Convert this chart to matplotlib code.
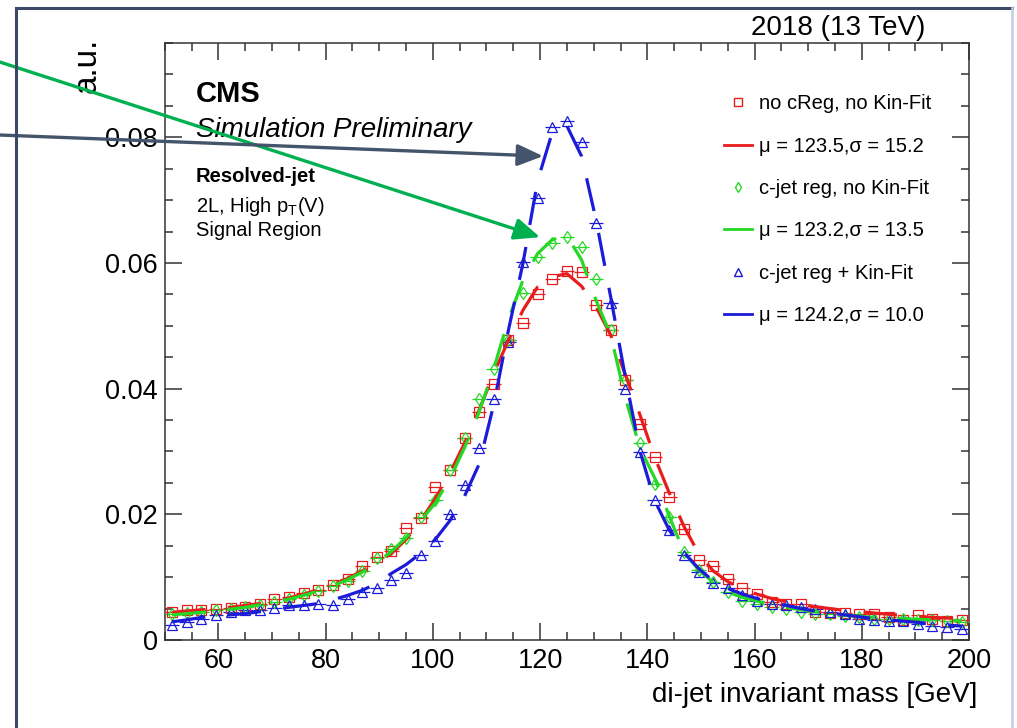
import numpy as np
import matplotlib.pyplot as plt
from matplotlib.lines import Line2D
from matplotlib.ticker import MultipleLocator, FuncFormatter

plt.rcParams['font.family'] = ['Liberation Sans', 'DejaVu Sans']
plt.rcParams['mathtext.fontset'] = 'custom'
plt.rcParams['mathtext.rm'] = 'Liberation Sans'
plt.rcParams['mathtext.it'] = 'Liberation Sans:italic'

# 55 bins between 50 and 200 GeV
bin_edges = np.linspace(50, 200, 56)
centers = 0.5 * (bin_edges[:-1] + bin_edges[1:])
half_w = 0.5 * (bin_edges[1] - bin_edges[0])

# no cReg, no Kin-Fit (red squares) + fit
red_pts = [0.0045, 0.0048, 0.0048, 0.0050, 0.0051, 0.0053, 0.0058, 0.0065, 0.0068, 0.0074,
           0.0079, 0.0088, 0.0097, 0.0118, 0.0132, 0.0142, 0.0178, 0.0194, 0.0243, 0.0270,
           0.0321, 0.0363, 0.0408, 0.0477, 0.0505, 0.0551, 0.0574, 0.0587, 0.0585, 0.0533,
           0.0494, 0.0413, 0.0343, 0.0291, 0.0227, 0.0176, 0.0128, 0.0117, 0.0097, 0.0083,
           0.0073, 0.0061, 0.0057, 0.0057, 0.0045, 0.0043, 0.0043, 0.0041, 0.0041, 0.0036,
           0.0032, 0.0040, 0.0033, 0.0031, 0.0032]
red_fit = [0.0044, 0.0046, 0.0048, 0.0050, 0.0052, 0.0055, 0.0058, 0.0062, 0.0067, 0.0073,
           0.0080, 0.0088, 0.0098, 0.0110, 0.0122, 0.0138, 0.0160, 0.0190, 0.0225, 0.0266,
           0.0313, 0.0366, 0.0424, 0.0477, 0.0525, 0.0562, 0.0578, 0.0583, 0.0563, 0.0530,
           0.0485, 0.0422, 0.0358, 0.0291, 0.0234, 0.0181, 0.0138, 0.0110, 0.0093, 0.0081,
           0.0073, 0.0066, 0.0061, 0.0057, 0.0053, 0.0050, 0.0047, 0.0045, 0.0043, 0.0041,
           0.0039, 0.0037, 0.0036, 0.0035, 0.0034]

# c-jet reg, no Kin-Fit (green diamonds) + fit
green_pts = [0.0041, 0.0043, 0.0045, 0.0047, 0.0049, 0.0052, 0.0056, 0.0061, 0.0066, 0.0072,
             0.0078, 0.0086, 0.0094, 0.0110, 0.0130, 0.0145, 0.0163, 0.0196, 0.0223, 0.0270,
             0.0322, 0.0383, 0.0431, 0.0477, 0.0552, 0.0609, 0.0631, 0.0641, 0.0625, 0.0575,
             0.0493, 0.0413, 0.0313, 0.0249, 0.0196, 0.0140, 0.0111, 0.0093, 0.0077, 0.0062,
             0.0057, 0.0053, 0.0049, 0.0045, 0.0042, 0.0041, 0.0038, 0.0037, 0.0034, 0.0033,
             0.0033, 0.0032, 0.0032, 0.0031, 0.0029]
green_fit = [0.0040, 0.0042, 0.0044, 0.0047, 0.0049, 0.0052, 0.0056, 0.0060, 0.0065, 0.0071,
             0.0078, 0.0086, 0.0096, 0.0108, 0.0123, 0.0141, 0.0163, 0.0190, 0.0218, 0.0257,
             0.0306, 0.0363, 0.0432, 0.0510, 0.0573, 0.0615, 0.0637, 0.0643, 0.0605, 0.0540,
             0.0485, 0.0385, 0.0305, 0.0258, 0.0197, 0.0140, 0.0112, 0.0092, 0.0076, 0.0068,
             0.0062, 0.0056, 0.0052, 0.0048, 0.0045, 0.0042, 0.0040, 0.0038, 0.0036, 0.0035,
             0.0034, 0.0033, 0.0032, 0.0032, 0.0031]

# c-jet reg + Kin-Fit (blue triangles) + fit
blue_pts = [0.0024, 0.0028, 0.0034, 0.0039, 0.0045, 0.0047, 0.0048, 0.0051, 0.0055, 0.0056,
            0.0058, 0.0055, 0.0066, 0.0077, 0.0082, 0.0095, 0.0106, 0.0135, 0.0157, 0.0200,
            0.0246, 0.0305, 0.0383, 0.0474, 0.0602, 0.0703, 0.0817, 0.0826, 0.0792, 0.0664,
            0.0537, 0.0400, 0.0299, 0.0223, 0.0175, 0.0135, 0.0109, 0.0090, 0.0082, 0.0071,
            0.0062, 0.0058, 0.0055, 0.0053, 0.0050, 0.0045, 0.0042, 0.0033, 0.0032, 0.0031,
            0.0031, 0.0025, 0.0023, 0.0020, 0.0017]
blue_fit = [0.0029, 0.0032, 0.0036, 0.0038, 0.0040, 0.0042, 0.0045, 0.0049, 0.0052, 0.0055,
            0.0058, 0.0064, 0.0071, 0.0079, 0.0090, 0.0106, 0.0120, 0.0138, 0.0160, 0.0190,
            0.0229, 0.0280, 0.0375, 0.0493, 0.0600, 0.0731, 0.0808, 0.0818, 0.0770, 0.0668,
            0.0545, 0.0418, 0.0300, 0.0222, 0.0175, 0.0139, 0.0114, 0.0094, 0.0082, 0.0073,
            0.0066, 0.0060, 0.0055, 0.0050, 0.0046, 0.0043, 0.0040, 0.0037, 0.0034, 0.0032,
            0.0030, 0.0028, 0.0026, 0.0024, 0.0022]

marker_labels = ['no cReg, no Kin-Fit', 'c-jet reg, no Kin-Fit', 'c-jet reg + Kin-Fit']
fit_labels = ['\u03bc = 123.5,\u03c3 = 15.2', '\u03bc = 123.2,\u03c3 = 13.5', '\u03bc = 124.2,\u03c3 = 10.0']
colors = ['#e81c1c', '#25d825', '#1c1cd8']
markers = ['s', 'd', '^']
msizes = [6.5, 6.0, 7.0]

fig = plt.figure(figsize=(10.17, 7.28), dpi=100)
ax = fig.add_axes([0.16205, 0.12088, 0.79076, 0.82005])

all_pts = [red_pts, green_pts, blue_pts]
all_fit = [red_fit, green_fit, blue_fit]
handles = []
labels = []
for pts, fit, col, mk, ms, ml, fl in zip(all_pts, all_fit, colors, markers, msizes,
                                          marker_labels, fit_labels):
    ax.errorbar(centers, pts, xerr=half_w, fmt=mk, mfc='none', mec=col, ecolor=col,
                ms=ms, mew=0.9, elinewidth=0.9, capsize=0, zorder=3)
    ax.plot(centers, fit, color=col, lw=2.3, dashes=(10.5, 7), zorder=4)
    handles.append(Line2D([], [], ls='none', marker=mk, mfc='none', mec=col, ms=ms - 1, mew=1.0))
    labels.append(ml)
    handles.append(Line2D([], [], color=col, lw=2.0))
    labels.append(fl)

ax.set_xlim(50, 200)
ax.set_ylim(0, 0.095)
ax.xaxis.set_major_locator(MultipleLocator(20))
ax.xaxis.set_minor_locator(MultipleLocator(5))
ax.yaxis.set_major_locator(MultipleLocator(0.02))
ax.yaxis.set_minor_locator(MultipleLocator(0.005))
ax.yaxis.set_major_formatter(FuncFormatter(lambda v, _: '0' if abs(v) < 1e-9 else f'{v:.2f}'))
ax.tick_params(which='both', direction='in', top=True, right=True, width=1.1,
               labelsize=19.5, color='#333333')
ax.tick_params(which='major', length=12)
ax.tick_params(which='minor', length=6)
ax.tick_params(axis='x', pad=6)
ax.tick_params(axis='y', pad=5)
for s in ax.spines.values():
    s.set_linewidth(1.1)
    s.set_color('#333333')

ax.set_xlabel('di-jet invariant mass [GeV]', fontsize=20, loc='right')
ax.xaxis.set_label_coords(1.01, -0.07)
ax.set_ylabel('a.u.', fontsize=24, loc='top')
ax.yaxis.set_label_coords(-0.096, 1.008)
ax.yaxis.label.set(ha='right', va='center')

ax.text(0.0388, 0.9012, 'CMS', transform=ax.transAxes, fontsize=21, fontweight='bold')
ax.text(0.0388, 0.8425, 'Simulation Preliminary', transform=ax.transAxes, fontsize=20,
        style='italic')
ax.text(0.0388, 0.7672, 'Resolved-jet', transform=ax.transAxes, fontsize=14.5,
        fontweight='bold')
ax.text(0.0388, 0.7169, r'2L, High p$_\mathregular{T}$(V)', transform=ax.transAxes,
        fontsize=14.5)
ax.text(0.0388, 0.6767, 'Signal Region', transform=ax.transAxes, fontsize=14.5)
ax.text(0.9453, 1.0134, '2018 (13 TeV)', transform=ax.transAxes, fontsize=20, ha='right')

ax.legend(handles, labels, loc='upper left', bbox_to_anchor=(0.6954, 0.914),
          frameon=False, fontsize=14.5, handlelength=1.4, handletextpad=0.35,
          labelspacing=1.16, borderpad=0, borderaxespad=0)

# slide annotations: arrows pointing at the peaks
ax.annotate('', xy=(120.0, 0.0641), xycoords='data', xytext=(-0.005, 0.9170),
            textcoords='figure fraction', annotation_clip=False, zorder=10,
            arrowprops=dict(arrowstyle='-|>,head_length=1.3,head_width=0.55',
                            mutation_scale=12, color='#00b050', lw=2.4,
                            shrinkA=0, shrinkB=0))
ax.annotate('', xy=(120.56, 0.0770), xycoords='data', xytext=(-0.005, 0.8148),
            textcoords='figure fraction', annotation_clip=False, zorder=10,
            arrowprops=dict(arrowstyle='-|>,head_length=1.3,head_width=0.55',
                            mutation_scale=12, color='#44546a', lw=2.4,
                            shrinkA=0, shrinkB=0))

# slide frame
fx_l, fx_r, fy_t = 16 / 1017, 1012 / 1017, 1 - 8 / 728
fig.add_artist(Line2D([fx_l, fx_l], [0, fy_t], transform=fig.transFigure,
                      color='#3b4866', lw=2.2))
fig.add_artist(Line2D([fx_l, fx_r], [fy_t, fy_t], transform=fig.transFigure,
                      color='#3b4866', lw=2.2))
fig.add_artist(Line2D([fx_r, fx_r], [0, fy_t], transform=fig.transFigure,
                      color='#c3cee3', lw=1.8))

fig.savefig('out.png', dpi=100)
